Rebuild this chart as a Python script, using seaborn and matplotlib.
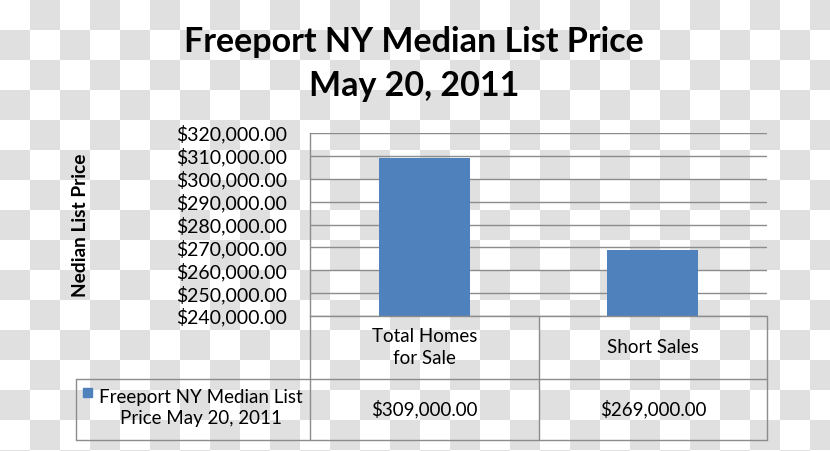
import numpy as np
import pandas as pd
import matplotlib
matplotlib.use("Agg")
import matplotlib.pyplot as plt
from matplotlib.lines import Line2D
import seaborn as sns

categories = ["Total Homes\nfor Sale", "Short Sales"]
values = [309000, 269000]
series_name = "Freeport NY Median List\nPrice May 20, 2011"
title = "Freeport NY Median List Price\nMay 20, 2011"
ylabel = "Nedian List Price"
yticks = [240000, 250000, 260000, 270000, 280000, 290000, 300000, 310000, 320000]

BAR = "#4F81BD"
GRID = "#8C8C8C"

sns.set_theme(style="white")
plt.rcParams["font.family"] = ["Lato", "DejaVu Sans"]

W, H = 830, 451
fig = plt.figure(figsize=(W / 100, H / 100), dpi=100)
fig.patch.set_alpha(0)

# checkerboard background
yy, xx = np.mgrid[0:H, 0:W]
chk = ((yy // 30 + xx // 30) % 2).astype(float)
img = np.ones((H, W, 3))
img[chk == 1] = 224 / 255
fig.figimage(img, 0, 0, origin="upper", zorder=-10)

def fx(px):
    return px / W

def fy(py):
    return 1 - py / H

L, R, T, B = 310, 767, 133, 316
ax = fig.add_axes([fx(L), fy(B), fx(R) - fx(L), fy(T) - fy(B)])
ax.patch.set_alpha(0)

df = pd.DataFrame({"cat": categories, "val": values})
sns.barplot(data=df, x="cat", y="val", color=BAR, saturation=1, width=0.4, ax=ax,
            zorder=3, linewidth=0)
ax.set_ylim(yticks[0], yticks[-1])
ax.set_xlim(-0.5, 1.5)
ax.set_yticks(yticks)
ax.set_yticklabels([f"${v:,.2f}" for v in yticks], fontsize=14, color="black")
ax.set_xticks([])
ax.set_xlabel("")
ax.set_ylabel("")
ax.tick_params(axis="y", length=0, pad=16.5)
ax.yaxis.grid(True, color=GRID, linewidth=1)
for s in ["top", "right", "bottom"]:
    ax.spines[s].set_visible(False)
ax.spines["left"].set_color(GRID)
ax.spines["left"].set_linewidth(1)

# title and y label
fig.text(fx(414), fy(64), title, ha="center", va="center", fontsize=24.5,
         fontweight="bold", linespacing=1.45, color="black")
fig.text(fx(80), fy(225), ylabel, ha="center", va="center", rotation=90,
         fontsize=13.8, fontweight="bold", color="black")

# data table
mid = 539
row1 = 379
bot = 440
tl = 76
lines = [
    ((L, L), (B, bot)),
    ((mid, mid), (B, bot)),
    ((R, R), (B, bot)),
    ((L, R), (B, B)),
    ((tl, R), (row1, row1)),
    ((tl, R), (bot, bot)),
    ((tl, tl), (row1, bot)),
]
for (x0, x1), (y0, y1) in lines:
    fig.add_artist(Line2D([fx(x0), fx(x1)], [fy(y0), fy(y1)], color=GRID, linewidth=1))

centers = [(L + mid) / 2, (mid + R) / 2]
for cx, cat, v in zip(centers, categories, values):
    fig.text(fx(cx), fy((B + row1) / 2), cat, ha="center", va="center", fontsize=13.5,
             linespacing=1.3, color="black")
    fig.text(fx(cx), fy((row1 + bot) / 2), f"${v:,.2f}", ha="center", va="center",
             fontsize=13.5, color="black")

fig.add_artist(plt.Rectangle((fx(83), fy(397)), fx(9), 9 / H, color=BAR,
                             transform=fig.transFigure))
fig.text(fx(201), fy(408), series_name, ha="center", va="center", fontsize=13.5,
         linespacing=1.3, color="black")

fig.savefig("out.png", dpi=100)
